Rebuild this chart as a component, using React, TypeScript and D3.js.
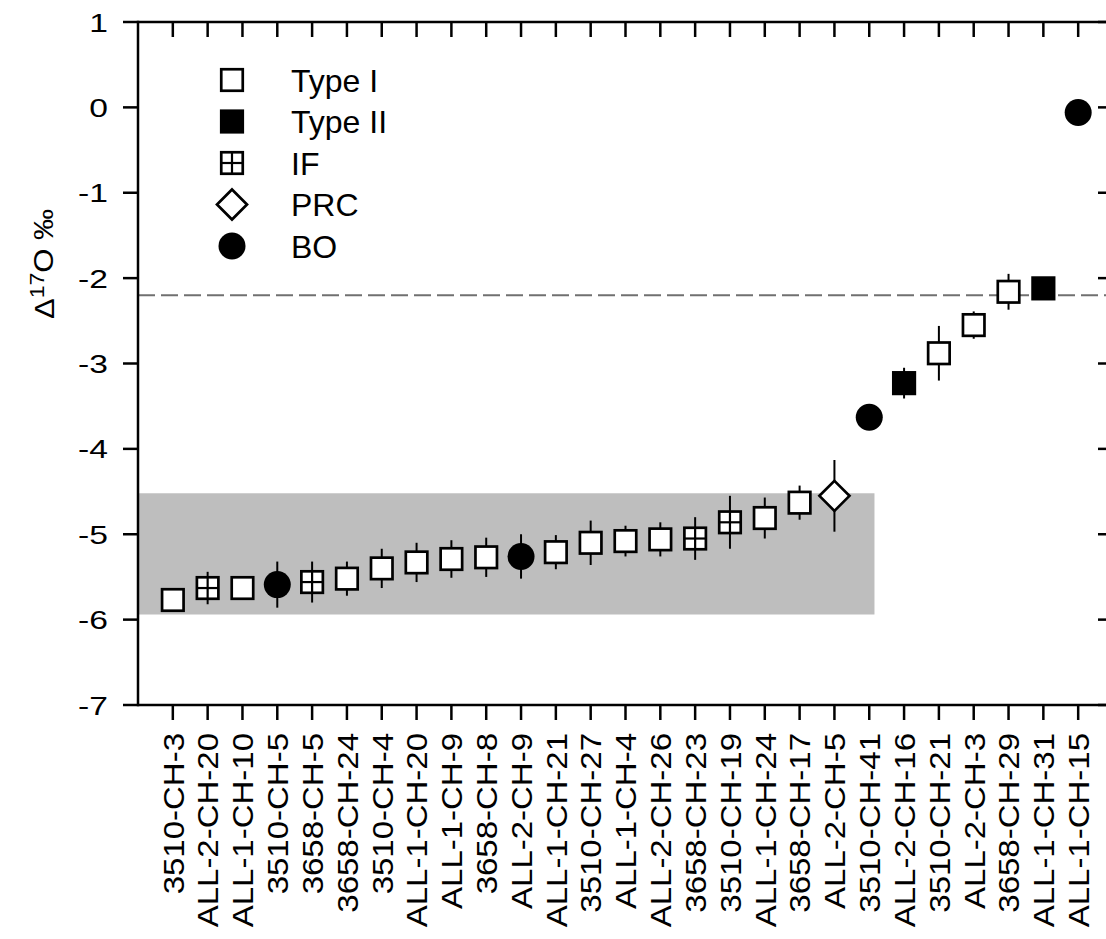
import React from "react";
import * as d3 from "d3";

const samples = [
  "3510-CH-3", "ALL-2-CH-20", "ALL-1-CH-10", "3510-CH-5", "3658-CH-5", "3658-CH-24",
  "3510-CH-4", "ALL-1-CH-20", "ALL-1-CH-9", "3658-CH-8", "ALL-2-CH-9", "ALL-1-CH-21",
  "3510-CH-27", "ALL-1-CH-4", "ALL-2-CH-26", "3658-CH-23", "3510-CH-19", "ALL-1-CH-24",
  "3658-CH-17", "ALL-2-CH-5", "3510-CH-41", "ALL-2-CH-16", "3510-CH-21", "ALL-2-CH-3",
  "3658-CH-29", "ALL-1-CH-31", "ALL-1-CH-15",
];
const types = [
  "I", "IF", "I", "BO", "IF", "I", "I", "I", "I", "I", "BO", "I", "I", "I", "I", "IF",
  "IF", "I", "I", "PRC", "BO", "II", "I", "I", "I", "II", "BO",
];
const values = [
  -5.77, -5.63, -5.63, -5.59, -5.56, -5.52, -5.4, -5.33, -5.29, -5.27, -5.26, -5.21,
  -5.1, -5.08, -5.06, -5.05, -4.86, -4.81, -4.63, -4.55, -3.63, -3.23, -2.88, -2.55,
  -2.16, -2.12, -0.06,
];
const errors = [
  0.05, 0.19, 0.05, 0.27, 0.24, 0.2, 0.23, 0.23, 0.22, 0.23, 0.26, 0.2, 0.26, 0.18,
  0.2, 0.25, 0.31, 0.24, 0.2, 0.42, 0.05, 0.18, 0.32, 0.16, 0.21, 0.05, 0.05,
];
const yTicks = [1, 0, -1, -2, -3, -4, -5, -6, -7];
const legendTypes = ["I", "II", "IF", "PRC", "BO"];
const legendLabels = ["Type I", "Type II", "IF", "PRC", "BO"];
const bandRange = [-4.52, -5.94];
const bandEnd = 21.15;
const refLine = -2.2;

const FONT = "'Liberation Sans', Arial, Helvetica, sans-serif";

function Marker({ type, cx, cy }: { type: string; cx: number; cy: number }) {
  const s = 21.5;
  const sw = 2.7;
  if (type === "I" || type === "II" || type === "IF") {
    return (
      <g>
        <rect x={cx - s / 2} y={cy - s / 2} width={s} height={s}
          fill={type === "II" ? "#000" : "#fff"} stroke="#000" strokeWidth={sw} />
        {type === "IF" && (
          <g stroke="#000" strokeWidth={2.2}>
            <line x1={cx} x2={cx} y1={cy - s / 2} y2={cy + s / 2} />
            <line x1={cx - s / 2} x2={cx + s / 2} y1={cy} y2={cy} />
          </g>
        )}
      </g>
    );
  }
  if (type === "PRC") {
    const r = 15;
    return (
      <path d={`M${cx},${cy - r}L${cx + r},${cy}L${cx},${cy + r}L${cx - r},${cy}Z`}
        fill="#fff" stroke="#000" strokeWidth={sw} />
    );
  }
  return <circle cx={cx} cy={cy} r={13.5} fill="#000" />;
}

export default function App() {
  const width = 1106;
  const height = 939;
  const left = 138, right = 1113, top = 22, bottom = 705;
  const x = d3.scaleLinear().domain([0, samples.length + 1]).range([left, right]);
  const y = d3.scaleLinear().domain([-7, 1]).range([bottom, top]);
  const tickLen = 15;
  const legendY = d3.scaleLinear().domain([0, 4]).range([80, 246]);

  return (
    <svg width={width} height={height} style={{ position: "absolute", left: 0, top: 0 }}
      fontFamily={FONT}>
      <rect x={0} y={0} width={width} height={height} fill="#fff" />
      {/* shaded band */}
      <rect x={x(0)} y={y(bandRange[0])} width={x(bandEnd) - x(0)}
        height={y(bandRange[1]) - y(bandRange[0])} fill="#bebebe" />
      {/* dashed reference line */}
      <line x1={x(0)} x2={x(samples.length + 1)} y1={y(refLine)} y2={y(refLine)}
        stroke="#707070" strokeWidth={2} strokeDasharray="17 6" />
      {/* error bars */}
      {values.map((v, i) => (
        <line key={"e" + i} x1={x(i + 1)} x2={x(i + 1)} y1={y(v - errors[i])} y2={y(v + errors[i])}
          stroke="#000" strokeWidth={2} />
      ))}
      {/* markers */}
      {values.map((v, i) => (
        <Marker key={"m" + i} type={types[i]} cx={x(i + 1)} cy={y(v)} />
      ))}
      {/* spines */}
      <g stroke="#000" strokeWidth={2.5} fill="none">
        <line x1={left} x2={left} y1={top - 1.25} y2={bottom + 1.25} />
        <line x1={left} x2={right} y1={top} y2={top} />
        <line x1={left} x2={right} y1={bottom} y2={bottom} />
        <line x1={right} x2={right} y1={top} y2={bottom} />
      </g>
      {/* ticks */}
      <g stroke="#000" strokeWidth={2.5}>
        {samples.map((s, i) => (
          <g key={"xt" + i}>
            <line x1={x(i + 1)} x2={x(i + 1)} y1={top} y2={top + tickLen} />
            <line x1={x(i + 1)} x2={x(i + 1)} y1={bottom} y2={bottom + tickLen} />
          </g>
        ))}
        {yTicks.map((t) => (
          <g key={"yt" + t}>
            <line x1={left - tickLen} x2={left} y1={y(t)} y2={y(t)} />
            <line x1={right - tickLen} x2={right} y1={y(t)} y2={y(t)} />
          </g>
        ))}
      </g>
      {/* y tick labels */}
      {yTicks.map((t) => (
        <text key={"yl" + t} transform={`translate(108,${y(t)}) scale(1.27,1)`} dy="0.36em"
          textAnchor="end" fontSize={26.5} fill="#000">
          {t}
        </text>
      ))}
      {/* x labels */}
      {samples.map((s, i) => (
        <text key={"xl" + i} transform={`translate(${x(i + 1)},${733}) rotate(-90) scale(1.1,1)`}
          dy="0.36em" textAnchor="end" fontSize={30} fill="#000">
          {s}
        </text>
      ))}
      {/* y axis title */}
      <text transform={`translate(${44},${264}) rotate(-90) scale(1.15,1)`} textAnchor="middle"
        dy="0.36em" fontSize={27} fill="#000">
        Δ<tspan fontSize={20} dy="-0.5em">17</tspan>
        <tspan dy="0.35em">O ‰</tspan>
      </text>
      {/* legend */}
      {legendTypes.map((t, i) => (
        <g key={"lg" + i}>
          <Marker type={t} cx={232} cy={legendY(i)} />
          <text x={291} y={legendY(i)} dy="0.36em" fontSize={32} fill="#000">
            {legendLabels[i]}
          </text>
        </g>
      ))}
    </svg>
  );
}
